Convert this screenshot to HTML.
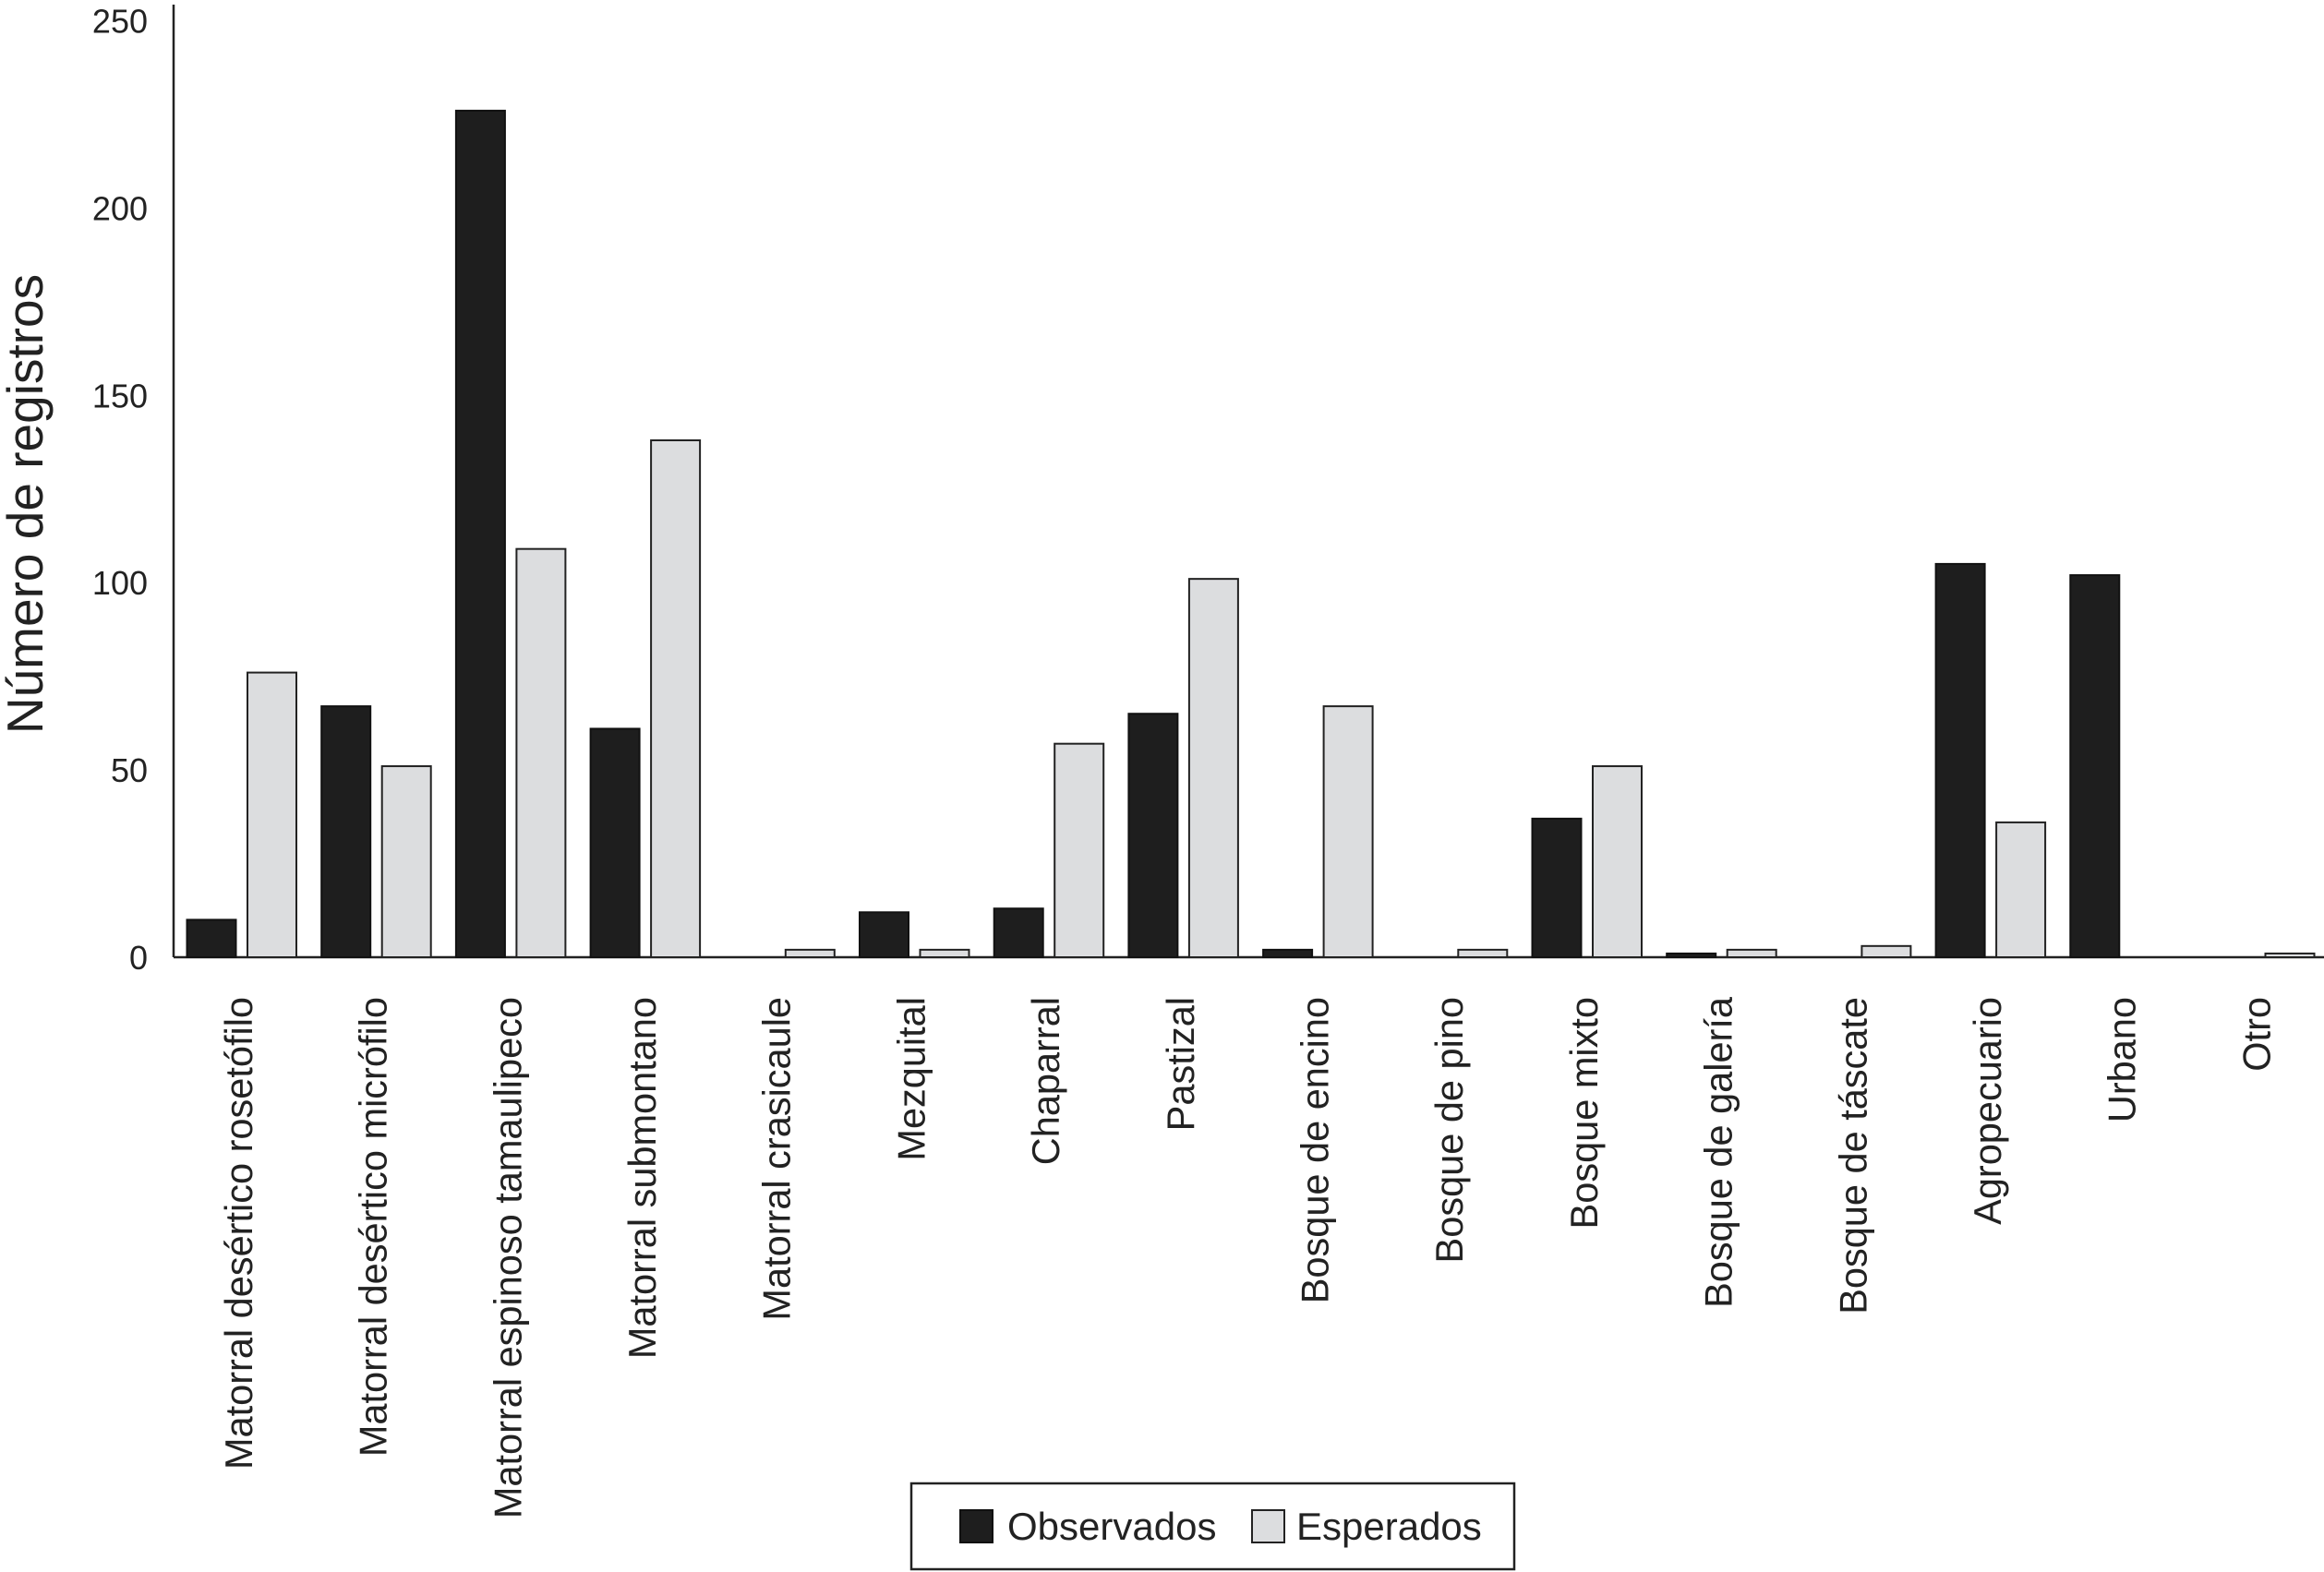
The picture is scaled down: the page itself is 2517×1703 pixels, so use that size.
<!DOCTYPE html>
<html><head><meta charset="utf-8"><style>
html,body{margin:0;padding:0;background:#fff;}
svg{display:block;font-family:"Liberation Sans",sans-serif;}
</style></head><body>
<svg id="chart" width="2517" height="1703" viewBox="0 0 2517 1703" xmlns="http://www.w3.org/2000/svg"></svg>
<script>
const categories = ["Matorral desértico rosetófilo","Matorral desértico micrófilo","Matorral espinoso tamaulipeco","Matorral submontano","Matorral crasicaule","Mezquital","Chaparral","Pastizal","Bosque de encino","Bosque de pino","Bosque mixto","Bosque de galería","Bosque de táscate","Agropecuario","Urbano","Otro"];
const observados = [10,67,226,61,0,12,13,65,2,0,37,1,0,105,102,0];
const esperados = [76,51,109,138,2,2,57,101,67,2,51,2,3,36,0,1];
const yTicks = [0,50,100,150,200,250];

const svg = document.getElementById('chart');
const NS = 'http://www.w3.org/2000/svg';
const x0 = 188, groupW = 145.7, y0 = 1037, yTop = 22.5, yMax = 250;
const yScale = v => y0 - v / yMax * (y0 - yTop);
const xGroup = i => x0 + i * groupW;
function mk(tag, attrs, parent) {
  const e = document.createElementNS(NS, tag);
  for (const k in attrs) e.setAttribute(k, attrs[k]);
  (parent || svg).appendChild(e);
  return e;
}
const ya = mk('line', {x1:x0, y1:5, x2:x0, y2:y0, stroke:'#222', 'stroke-width':2.5});


const xa = mk('line', {x1:x0, y1:y0, x2:2517, y2:y0, stroke:'#222', 'stroke-width':2.5});


yTicks.forEach(t => {
  const tx = mk('text', {x:160, y:yScale(t) + 13, 'text-anchor':'end', 'font-size':36, fill:'#222'});
  tx.textContent = t;
  
  
});
const yt = mk('text', {x:0, y:0, transform:'translate(46,546) rotate(-90)', 'text-anchor':'middle', 'font-size':55, fill:'#222'});
yt.textContent = 'Número de registros';


categories.forEach((c, i) => {
  const gx = xGroup(i);
  const ob = observados[i], es = esperados[i];
  if (ob > 0) {
    const b = mk('rect', {x:gx + 14.5, y:yScale(ob), width:53, height:y0 - yScale(ob), fill:'#1e1e1e', stroke:'#111', 'stroke-width':2});
    
    
  }
  if (es > 0) {
    const b = mk('rect', {x:gx + 80, y:yScale(es), width:53, height:y0 - yScale(es), fill:'#dcdddf', stroke:'#222', 'stroke-width':2});
    
    
  }
  const cx = gx + groupW / 2 + 12;
  const t = mk('text', {x:0, y:0, transform:'translate(' + cx + ',1080) rotate(-90)', 'text-anchor':'end', 'font-size':41.5, fill:'#222'});
  t.textContent = c;
  
  
});
const lg = mk('g', {});


mk('rect', {x:987, y:1607, width:653, height:93, fill:'#fff', stroke:'#222', 'stroke-width':2.5}, lg);
const s1 = mk('rect', {x:1040, y:1636, width:35, height:35, fill:'#1e1e1e', stroke:'#111', 'stroke-width':2}, lg);


const t1 = mk('text', {x:1091, y:1668, 'font-size':42, fill:'#222'}, lg);
t1.textContent = 'Observados';


const s2 = mk('rect', {x:1356, y:1636, width:35, height:35, fill:'#dcdddf', stroke:'#222', 'stroke-width':2}, lg);


const t2 = mk('text', {x:1404, y:1668, 'font-size':42, fill:'#222'}, lg);
t2.textContent = 'Esperados';


</script>
</body></html>
